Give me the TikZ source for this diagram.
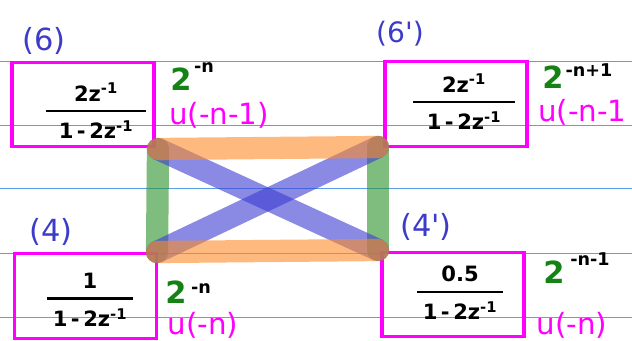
\documentclass[tikz,border=0pt]{standalone}
\usepackage{amsmath}
\usepackage{fontspec}
\setmainfont{DejaVu Sans}
\usetikzlibrary{positioning}

\definecolor{tagblue}{RGB}{60,60,200}
\definecolor{boxmag}{RGB}{255,0,255}
\definecolor{powgreen}{RGB}{20,130,20}
\definecolor{ruleblue}{RGB}{90,160,230}
\definecolor{bandorange}{RGB}{253,140,40}
\definecolor{bandgreen}{RGB}{40,145,40}
\definecolor{bandblue}{RGB}{60,60,210}

\newcommand{\zfrac}[3]{$\genfrac{}{}{2.4pt}{0}{\text{#2}}{\makebox[#1]{#3}}$}

\begin{document}
\begin{tikzpicture}[x=0.03cm, y=-0.03cm,
    zbox/.style={draw=boxmag, line width=2.6pt, minimum width=4.26cm, minimum height=2.54cm, inner sep=0pt},
    tag/.style={text=tagblue, inner sep=0pt, font=\fontsize{26}{28}\selectfont},
    unit/.style={text=boxmag, inner sep=0pt, font=\fontsize{25}{27}\selectfont},
    base/.style={text=powgreen, inner sep=0pt, font=\fontsize{26}{28}\selectfont\bfseries},
    expo/.style={inner sep=0pt, font=\fontsize{15}{16}\selectfont\bfseries},
    zf/.style={inner sep=0pt, font=\fontsize{18}{20}\selectfont\bfseries},
    band/.style={line width=19pt, line cap=round, opacity=.6}]
    \useasboundingbox (0,0) rectangle (632,341);

    % ruled paper
    \foreach \y in {61,125,188,253,317}
        \draw[ruleblue, line width=0.8pt] (0,\y) -- (632,\y);

    % the four boxes
    \node[zbox] (six) at (83,104.5) {};
    \node[zbox] (sixp) at (456,104) {};
    \node[zbox] (four) at (85.5,296) {};
    \node[zbox] (fourp) at (453,294.5) {};

    \node[zf] (fsix) at (96,111) {\zfrac{86pt}{2z\textsuperscript{-1}}{1\,-\,2z\textsuperscript{-1}}};
    \node[zf] (fsixp) at (464,102) {\zfrac{87pt}{2z\textsuperscript{-1}}{1\,-\,2z\textsuperscript{-1}}};
    \node[zf] (ffour) at (90,300) {\zfrac{73pt}{1}{1\,-\,2z\textsuperscript{-1}}};
    \node[zf] (ffourp) at (460,293) {\zfrac{73pt}{0.5}{1\,-\,2z\textsuperscript{-1}}};

    \node[tag] (tsix) at (44,41) {(6)};
    \node[tag, font=\fontsize{24}{26}\selectfont] (tsixp) at (400,34) {(6\textquotesingle)};
    \node[tag] (tfour) at (51,232) {(4)};
    \node[tag] (tfourp) at (426,227) {(4\textquotesingle)};

    % powers
    \node[base] (bsix) at (181,79) {2};
    \node[expo] (esix) at (204,68) {-n};
    \node[base] (bsixp) at (553,77) {2};
    \node[expo] (esixp) at (589,70) {-n+1};
    \node[base] (bfour) at (176,292) {2};
    \node[expo] (efour) at (201,289) {-n};
    \node[base] (bfourp) at (554,272) {2};
    \node[expo] (efourp) at (590,259) {-n-1};

    \node[unit] (usix) at (219,115) {u(-n-1)};
    \node[unit, anchor=west] (usixp) at (538,112) {u(-n-1};
    \node[unit] (ufour) at (203,325) {u(-n)};
    \node[unit] (ufourp) at (572,325) {u(-n)};

    % connections
    \coordinate (tl) at (158,149);
    \coordinate (tr) at (378,147);
    \coordinate (bl) at (157,252);
    \coordinate (br) at (378,250);
    \draw[band, bandgreen] (tl) -- (bl);
    \draw[band, bandgreen] (tr) -- (br);
    \draw[band, bandblue] (tl) -- (br);
    \draw[band, bandblue] (bl) -- (tr);
    \draw[band, bandorange] (tl) -- (tr);
    \draw[band, bandorange] (bl) -- (br);
\end{tikzpicture}
\end{document}
